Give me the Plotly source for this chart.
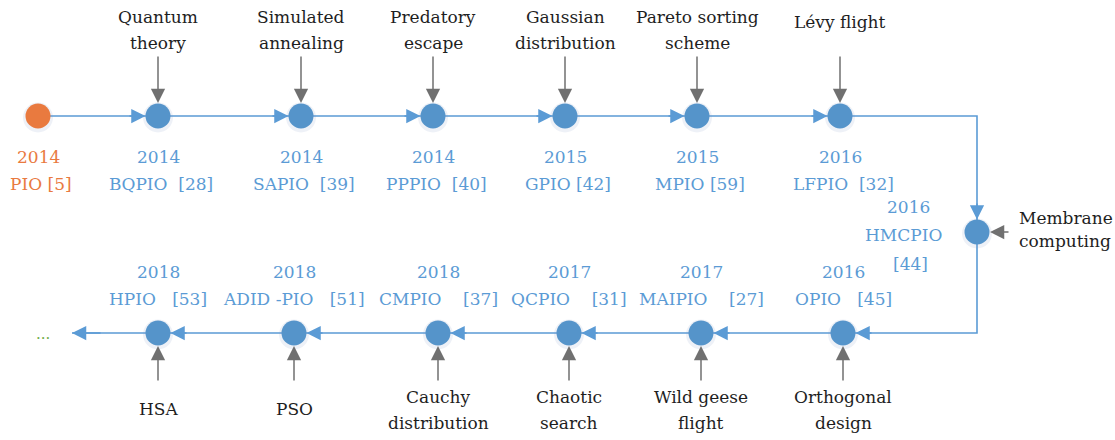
import plotly.graph_objects as go

# ---- data ----
years = [2014, 2014, 2014, 2014, 2015, 2015, 2016, 2016, 2016, 2017, 2017, 2018, 2018, 2018]
names = ["PIO", "BQPIO", "SAPIO", "PPPIO", "GPIO", "MPIO", "LFPIO", "HMCPIO",
         "OPIO", "MAIPIO", "QCPIO", "CMPIO", "ADID -PIO", "HPIO"]
refs = [5, 28, 39, 40, 42, 59, 32, 44, 45, 27, 31, 37, 51, 53]
inspirations = ["", "Quantum\ntheory", "Simulated\nannealing", "Predatory\nescape",
                "Gaussian\ndistribution", "Pareto sorting\nscheme", "Lévy flight",
                "Membrane\ncomputing", "Orthogonal\ndesign", "Wild geese\nflight",
                "Chaotic\nsearch", "Cauchy\ndistribution", "PSO", "HSA"]

# ---- layout (pixel positions of the diagram) ----
W, H = 1115, 440
node_x = [38, 158, 301, 433, 565, 697, 840, 977, 843, 701, 569, 438, 294, 158]
node_y = [116] * 7 + [232] + [333] * 6
gaps = [1, 2, 2, 2, 1, 1, 2, 1, 3, 4, 4, 4, 3, 3]
side = ["top"] * 7 + ["right"] + ["bottom"] * 6
end_x = 72

BLUE_LINE = "#5B9BD5"
BLUE_NODE = "#5594CA"
BLUE_TEXT = "#5B9BD5"
ORANGE = "#E97A3F"
GRAY = "#707070"
BLACK = "#1E1E1E"
FONT = "DejaVu Serif"
FS = 17
NB = "\u00a0"

fig = go.Figure()

# route of the timeline
route_x = node_x[:7] + [node_x[7], node_x[7], node_x[7]] + node_x[8:] + [end_x]
route_y = node_y[:7] + [node_y[0], node_y[7], node_y[8]] + node_y[8:] + [node_y[13]]
fig.add_trace(go.Scatter(x=route_x, y=route_y, mode="lines",
                         line=dict(color=BLUE_LINE, width=1.6),
                         hoverinfo="skip", showlegend=False))

# node glow
fig.add_trace(go.Scatter(x=node_x, y=[v + 1.5 for v in node_y], mode="markers",
                         marker=dict(size=30, color="rgba(120,150,190,0.13)", line=dict(width=0)),
                         hoverinfo="skip", showlegend=False))
# nodes
colors = [ORANGE] + [BLUE_NODE] * (len(names) - 1)
fig.add_trace(go.Scatter(x=node_x, y=node_y, mode="markers",
                         marker=dict(size=25, color=colors, line=dict(width=0)),
                         text=[f"{n} ({y}) [{r}]" for n, y, r in zip(names, years, refs)],
                         hoverinfo="text", showlegend=False))

ann = []

def arrow(x, y, ax, ay, color, standoff, size=1.9):
    ann.append(dict(x=x, y=y, ax=ax, ay=ay, axref="x", ayref="y", xref="x", yref="y",
                    showarrow=True, arrowhead=2, arrowsize=size, arrowwidth=1.5,
                    arrowcolor=color, standoff=standoff, text=""))

# blue arrowheads into each node along the route
prev_pts = [None] + [(node_x[i - 1], node_y[i - 1]) for i in range(1, 7)] + \
           [(node_x[7], node_y[0]), (node_x[7], node_y[8])] + \
           [(node_x[i - 1], node_y[i - 1]) for i in range(9, 14)]
for i in range(1, 14):
    px, py = prev_pts[i]
    dx = (node_x[i] - px); dy = (node_y[i] - py)
    L = (dx ** 2 + dy ** 2) ** 0.5
    arrow(node_x[i], node_y[i], node_x[i] - dx / L * 30, node_y[i] - dy / L * 30, BLUE_LINE, 12.5)
# final arrow
arrow(end_x, node_y[13], end_x + 30, node_y[13], BLUE_LINE, 0)

# gray inspiration arrows and texts
for i in range(1, 14):
    x, y = node_x[i], node_y[i]
    lines = inspirations[i].split("\n")
    if side[i] == "top":
        arrow(x, y, x, 55, GRAY, 13)
        ys = [22] if len(lines) == 1 else [17, 43]
        for t, yy in zip(lines, ys):
            ann.append(dict(x=x, y=yy, text=t, showarrow=False, xanchor="center", yanchor="middle",
                            font=dict(family=FONT, size=FS, color=BLACK)))
    elif side[i] == "bottom":
        arrow(x, y, x, 382, GRAY, 13)
        ys = [409] if len(lines) == 1 else [397, 423]
        for t, yy in zip(lines, ys):
            ann.append(dict(x=x, y=yy, text=t, showarrow=False, xanchor="center", yanchor="middle",
                            font=dict(family=FONT, size=FS, color=BLACK)))
    else:
        arrow(x, y, 1010, y, GRAY, 13)
        for t, yy in zip(lines, [218, 241]):
            ann.append(dict(x=1017, y=yy, text=t, showarrow=False, xanchor="left", yanchor="middle",
                            font=dict(family=FONT, size=FS, color=BLACK)))

# year / name labels
for i in range(14):
    x, y = node_x[i], node_y[i]
    col = ORANGE if i == 0 else BLUE_TEXT
    if side[i] == "top":
        items = [(x, y + 41, str(years[i])), (x + 3, y + 68, f"{names[i]}{NB * gaps[i]}[{refs[i]}]")]
    elif side[i] == "bottom":
        items = [(x, y - 61, str(years[i])), (x, y - 34, f"{names[i]}{NB * gaps[i]}[{refs[i]}]")]
    else:
        items = [(908, 207, str(years[i])), (903, 235, names[i]), (910, 264, f"[{refs[i]}]")]
    for xx, yy, t in items:
        ann.append(dict(x=xx, y=yy, text=t, showarrow=False, xanchor="center", yanchor="middle",
                        font=dict(family=FONT, size=FS, color=col)))

# continuation dots
ann.append(dict(x=43, y=334, text="...", showarrow=False, xanchor="center", yanchor="middle",
                font=dict(family=FONT, size=15, color="#70AD47")))

fig.update_layout(
    width=W, height=H, margin=dict(l=0, r=0, t=0, b=0),
    paper_bgcolor="white", plot_bgcolor="white",
    font=dict(family=FONT),
    xaxis=dict(range=[0, W], visible=False, fixedrange=True),
    yaxis=dict(range=[H, 0], visible=False, fixedrange=True),
    annotations=ann, showlegend=False,
)

fig.write_html("out.html", post_script="document.body.style.margin='0';",
               config={"displayModeBar": False})
